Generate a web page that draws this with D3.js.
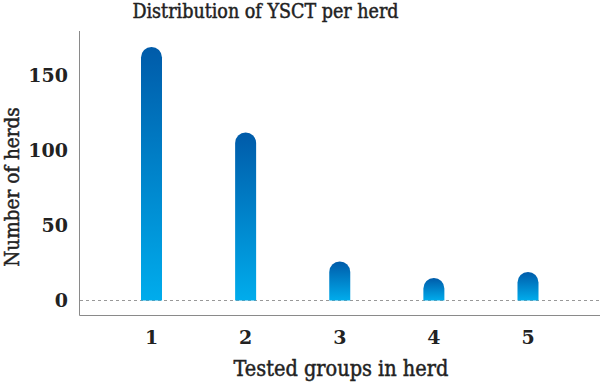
<!DOCTYPE html>
<html>
<head>
<meta charset="utf-8">
<script src="https://cdn.jsdelivr.net/npm/d3@7"></script>
<style>
  body { margin: 0; background: #fff; }
  text { font-family: "DejaVu Serif", serif; fill: #222; }
  .lbl { font-stretch: condensed; stroke: #222; stroke-width: 0.45px; }
</style>
</head>
<body>
<div id="chart"></div>
<script>
var groups = ["1", "2", "3", "4", "5"];
var herdCounts = [169, 112, 26, 15, 19];
var yTicks = [0, 50, 100, 150];

var width = 600, height = 382;

var svg = d3.select("#chart")
    .append("svg")
    .attr("width", width)
    .attr("height", height);

var defs = svg.append("defs");
var grad = defs.append("linearGradient")
    .attr("id", "barGrad")
    .attr("x1", 0).attr("y1", 0)
    .attr("x2", 0).attr("y2", 1);
grad.append("stop").attr("offset", "0%").attr("stop-color", "#005ba9");
grad.append("stop").attr("offset", "100%").attr("stop-color", "#00acec");

var x = d3.scalePoint()
    .domain(groups)
    .range([151.5, 528]);

var y = d3.scaleLinear()
    .domain([0, 150])
    .range([300.5, 75.5]);

// axis frame
svg.append("line")
    .attr("x1", 79.5).attr("x2", 79.5)
    .attr("y1", 31).attr("y2", 315.5)
    .attr("stroke", "#8a8a8a");
svg.append("line")
    .attr("x1", 79.5).attr("x2", 600)
    .attr("y1", 315.5).attr("y2", 315.5)
    .attr("stroke", "#8a8a8a");

// zero line
svg.append("line")
    .attr("x1", 80).attr("x2", 600)
    .attr("y1", y(0)).attr("y2", y(0))
    .attr("stroke", "#999")
    .attr("stroke-dasharray", "3,3");

// y tick labels
svg.append("g").selectAll("text")
    .data(yTicks)
    .join("text")
    .attr("x", 68)
    .attr("y", function (d) { return y(d); })
    .attr("dy", "0.36em")
    .attr("text-anchor", "end")
    .style("font-size", "19px")
    .style("font-weight", "bold")
    .text(function (d) { return d; });

// x tick labels
svg.append("g").selectAll("text")
    .data(groups)
    .join("text")
    .attr("x", function (d) { return x(d); })
    .attr("y", 344)
    .attr("text-anchor", "middle")
    .style("font-size", "19px")
    .style("font-weight", "bold")
    .text(function (d) { return d; });

// bars with rounded tops
var barW = 21, r = barW / 2;
svg.append("g").selectAll("path")
    .data(herdCounts)
    .join("path")
    .attr("fill", "url(#barGrad)")
    .attr("d", function (d, i) {
        var cx = x(groups[i]);
        var top = y(d), bottom = y(0);
        var left = cx - r, right = cx + r;
        return "M" + left + "," + bottom +
            "L" + left + "," + (top + r) +
            "A" + r + "," + r + " 0 0 1 " + right + "," + (top + r) +
            "L" + right + "," + bottom + "Z";
    });

// title
svg.append("text")
    .attr("class", "lbl")
    .attr("x", 265.5)
    .attr("y", 18)
    .attr("text-anchor", "middle")
    .style("font-size", "19.5px")
    .text("Distribution of YSCT per herd");

// axis titles
svg.append("text")
    .attr("class", "lbl")
    .attr("x", 341)
    .attr("y", 376)
    .attr("text-anchor", "middle")
    .style("font-size", "21.5px")
    .text("Tested groups in herd");

svg.append("text")
    .attr("class", "lbl")
    .attr("transform", "translate(18.5,187) rotate(-90)")
    .attr("text-anchor", "middle")
    .style("font-size", "20.5px")
    .text("Number of herds");
</script>
</body>
</html>
